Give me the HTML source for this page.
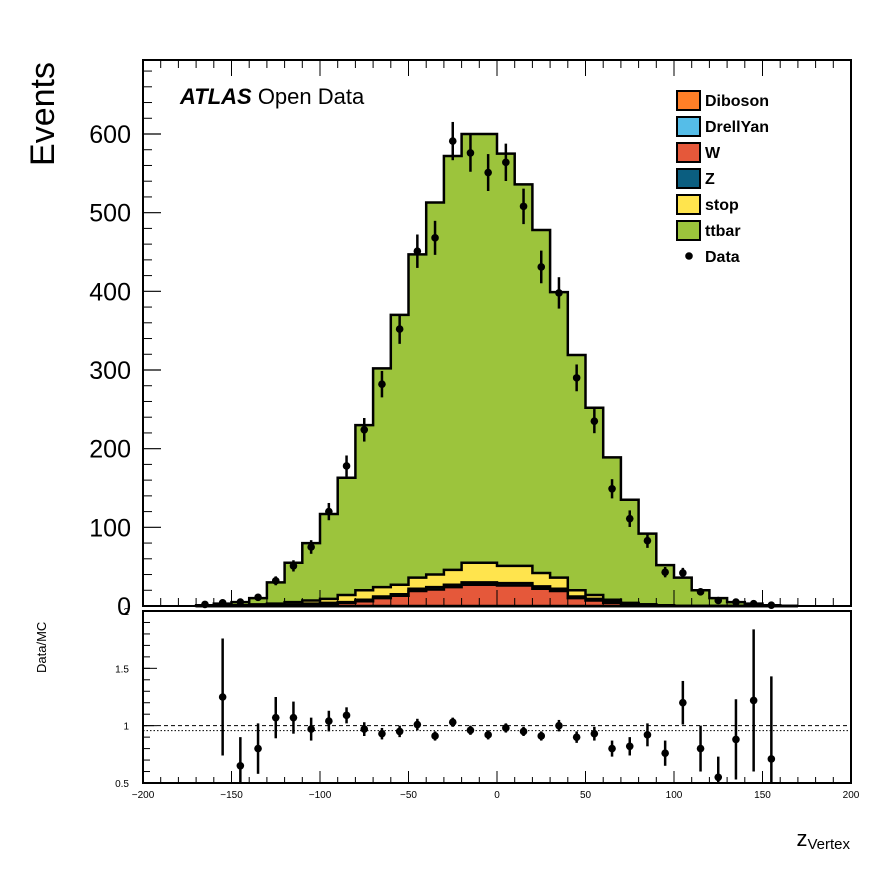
<!DOCTYPE html>
<html><head><meta charset="utf-8"><style>
body{margin:0;background:#fff}
svg{display:block;font-family:"Liberation Sans",sans-serif}
</style></head><body>
<svg id="c" width="896" height="872"></svg>
<script>
const binLo=[-170,-160,-150,-140,-130,-120,-110,-100,-90,-80,-70,-60,-50,-40,-30,-20,-10,0,10,20,30,40,50,60,70,80,90,100,110,120,130,140,150,160];
const mcTotal=[1,3,5,10,30,55,80,117,163,230,302,370,447,513,572,600,600,575,536,478,399,319,252,189,135,92,52,36,20,10,5,3,1,0];
const stopTop=[0,0,1,2,3,5,7,9,14,20,24,27,36,40,46,55,55,51,51,42,36,20,14,8,4,2,1,0,0,0,0,0,0,0];
const zTop=[0,0,0,0,1,2,3,4,5,8,12,15,22,24,27,30,30,29,29,25,22,12,9,5,3,2,1,0,0,0,0,0,0,0];
const wTop=[0,0,0,0,1,1,2,3,4,6,10,13,19,21,24,27,27,26,26,22,19,10,7,4,2,1,0,0,0,0,0,0,0,0];
const dataX=[-165,-155,-145,-135,-125,-115,-105,-95,-85,-75,-65,-55,-45,-35,-25,-15,-5,5,15,25,35,45,55,65,75,85,95,105,115,125,135,145,155];
const dataY=[2,4,5,11,32,51,75,120,178,224,282,352,451,468,591,576,551,564,508,431,398,290,235,149,111,83,43,42,18,7,5,3,1];
const ratioX=[-155,-145,-135,-125,-115,-105,-95,-85,-75,-65,-55,-45,-35,-25,-15,-5,5,15,25,35,45,55,65,75,85,95,105,115,125,135,145,155];
const ratioY=[1.25,0.65,0.8,1.07,1.07,0.97,1.04,1.09,0.97,0.93,0.95,1.01,0.91,1.03,0.96,0.92,0.98,0.95,0.91,1.0,0.9,0.93,0.8,0.82,0.92,0.76,1.2,0.8,0.55,0.88,1.22,0.71];
const ratioErr=[0.51,0.25,0.22,0.18,0.14,0.1,0.09,0.07,0.06,0.05,0.05,0.05,0.04,0.04,0.04,0.04,0.04,0.04,0.04,0.05,0.05,0.06,0.07,0.08,0.1,0.11,0.19,0.2,0.18,0.35,0.62,0.72];
const yTicks=[0,100,200,300,400,500,600];
const xTicks=[-200,-150,-100,-50,0,50,100,150,200];
const rTicks=[0.5,1,1.5,2];
const rTickLabels=["0.5","1","1.5","2"];

const NS="http://www.w3.org/2000/svg";
const svg=document.getElementById('c');
function el(t,a,p){const e=document.createElementNS(NS,t);for(const k in a)e.setAttribute(k,a[k]);(p||svg).appendChild(e);return e;}
const L=143,R=851,T=60,B=606,RT=611,RB=783;
const X=v=>L+(v+200)*(R-L)/400;
const Y=v=>B-v*(B-134)/600;
const RY=v=>RB-(v-0.5)*(RB-RT)/1.5;

function stackPath(vals,name,fill){
  let d=`M${X(binLo[0])},${B}`;
  vals.forEach((v,i)=>{d+=` L${X(binLo[i])},${Y(v)} L${X(binLo[i]+10)},${Y(v)}`;});
  d+=` L${X(binLo[binLo.length-1]+10)},${B} Z`;
  const p=el('path',{d,fill,stroke:'#000','stroke-width':2.5});
  
  
}
stackPath(mcTotal,'ttbar-stack','#9cc43c');
stackPath(stopTop,'stop-stack','#ffe44d');
stackPath(zTop,'z-stack','#0b5e80');
stackPath(wTop,'w-stack','#e5583a');

const f=el('rect',{x:L,y:T,width:R-L,height:B-T,fill:'none',stroke:'#000','stroke-width':2});


yTicks.forEach(v=>{
  el('line',{x1:L,x2:L+18,y1:Y(v),y2:Y(v),stroke:'#000','stroke-width':1.2});
  const t=el('text',{x:L-12,y:Y(v)+9,'text-anchor':'end','font-size':25},null);t.textContent=v;
  
  
  for(let m=1;m<5;m++){const mv=v+m*20;if(Y(mv)>T)el('line',{x1:L,x2:L+9,y1:Y(mv),y2:Y(mv),stroke:'#000','stroke-width':1});}
});
for(let v=-200;v<=200;v+=10){
  const big=v%50===0;
  el('line',{x1:X(v),x2:X(v),y1:B,y2:B-(big?16:8),stroke:'#000','stroke-width':1});
  el('line',{x1:X(v),x2:X(v),y1:T,y2:T+(big?16:8),stroke:'#000','stroke-width':1});
  el('line',{x1:X(v),x2:X(v),y1:RB,y2:RB-(big?12:6),stroke:'#000','stroke-width':1});
}
dataX.forEach((x,i)=>{
  const v=dataY[i],e=Math.sqrt(v);
  el('line',{x1:X(x),x2:X(x),y1:Y(v+e),y2:Y(Math.max(0,v-e)),stroke:'#000','stroke-width':2.5});
  const c=el('circle',{cx:X(x),cy:Y(v),r:3.8,fill:'#000'});
  
  
});
const rf=el('rect',{x:L,y:RT,width:R-L,height:RB-RT,fill:'none',stroke:'#000','stroke-width':2});


el('line',{x1:L,x2:R,y1:RY(1),y2:RY(1),stroke:'#000','stroke-dasharray':'4,3','stroke-width':1});
el('line',{x1:L,x2:R,y1:RY(0.957),y2:RY(0.957),stroke:'#000','stroke-dasharray':'1.5,2','stroke-width':1});
rTicks.forEach((v,i)=>{
  el('line',{x1:L,x2:L+14,y1:RY(v),y2:RY(v),stroke:'#000'});
  const t=el('text',{x:L-14,y:RY(v)+4,'text-anchor':'end','font-size':10});t.textContent=rTickLabels[i];
  
  
});
for(let v=0.6;v<2;v+=0.1){el('line',{x1:L,x2:L+7,y1:RY(v),y2:RY(v),stroke:'#000'});}
svg.insertAdjacentHTML('beforeend',`<clipPath id="rc"><rect x="${L}" y="${RT}" width="${R-L}" height="${RB-RT}"/></clipPath>`);
const rg=el('g',{'clip-path':'url(#rc)'});
ratioX.forEach((x,i)=>{
  const v=ratioY[i],e=ratioErr[i];
  el('line',{x1:X(x),x2:X(x),y1:RY(v+e),y2:RY(v-e),stroke:'#000','stroke-width':2.5},rg);
  const c=el('circle',{cx:X(x),cy:RY(v),r:3.8,fill:'#000'},rg);
  
  
});
xTicks.forEach(v=>{
  const t=el('text',{x:X(v),y:RB+15,'text-anchor':'middle','font-size':10});t.textContent=v<0?'\u2212'+(-v):v;
  
  
});
</script>
<svg style="position:absolute;left:0;top:0" width="896" height="872">
<text x="54" y="62" font-size="34" transform="rotate(-90 54 62)" text-anchor="end" font-family="Liberation Sans,sans-serif">Events</text>
<text x="46" y="673" font-size="13" transform="rotate(-90 46 673)" font-family="Liberation Sans,sans-serif">Data/MC</text>
<text x="850" y="846" font-size="22" text-anchor="end" font-family="Liberation Sans,sans-serif">z<tspan font-size="15" dy="3">Vertex</tspan></text>
<text x="180" y="104" font-size="22" font-family="Liberation Sans,sans-serif"><tspan font-weight="bold" font-style="italic">ATLAS</tspan> Open Data</text>
<g font-size="16" font-weight="bold" font-family="Liberation Sans,sans-serif">
<g><rect x="677" y="91" width="23" height="19" fill="#ff7f27" stroke="#000" stroke-width="2"/><text x="705" y="106">Diboson</text></g>
<g><rect x="677" y="117" width="23" height="19" fill="#55bde8" stroke="#000" stroke-width="2"/><text x="705" y="132">DrellYan</text></g>
<g><rect x="677" y="143" width="23" height="19" fill="#e5583a" stroke="#000" stroke-width="2"/><text x="705" y="158">W</text></g>
<g><rect x="677" y="169" width="23" height="19" fill="#0b5e80" stroke="#000" stroke-width="2"/><text x="705" y="184">Z</text></g>
<g><rect x="677" y="195" width="23" height="19" fill="#ffe44d" stroke="#000" stroke-width="2"/><text x="705" y="210">stop</text></g>
<g><rect x="677" y="221" width="23" height="19" fill="#9cc43c" stroke="#000" stroke-width="2"/><text x="705" y="236">ttbar</text></g>
<g><circle cx="689" cy="256" r="3.8" fill="#000"/><text x="705" y="262">Data</text></g>
</g>
</svg>
</body></html>
